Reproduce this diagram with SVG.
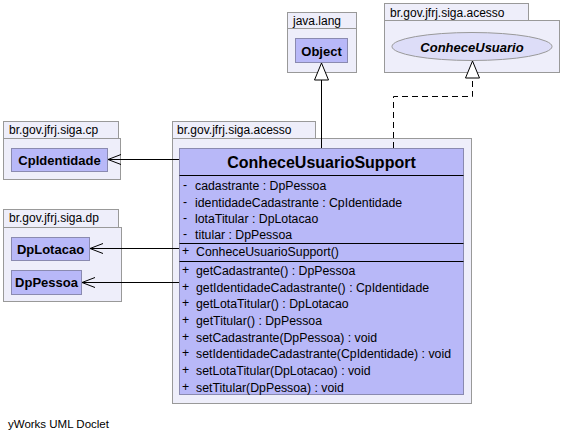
<svg xmlns="http://www.w3.org/2000/svg" width="562" height="441" viewBox="0 0 562 441">
<defs>
<style>
.pkg{fill:#EEEEFA;stroke:#999999;stroke-width:1}
.cls{fill:#B8B8F8;stroke:#8A8AB0;stroke-width:1}
.pl{font-family:"Liberation Sans",Arial,sans-serif;font-size:12px;fill:#000}
.bn{font-family:"Liberation Sans",Arial,sans-serif;font-size:13px;font-weight:bold;fill:#000;text-anchor:middle}
.mem{font-family:"Liberation Sans",Arial,sans-serif;font-size:12.3px;fill:#000}
.sep{stroke:#000;stroke-width:1}
.edge{fill:none;stroke:#000;stroke-width:1}
</style>
<marker id="open" markerWidth="14" markerHeight="12" refX="13" refY="6" orient="auto" markerUnits="userSpaceOnUse">
<path d="M0,1 L13,6 L0,11" fill="none" stroke="#000" stroke-width="1"/>
</marker>
<marker id="tri" markerWidth="20" markerHeight="18" refX="18" refY="8" orient="auto" markerUnits="userSpaceOnUse">
<path d="M18,8 L1,1 L1,15 Z" fill="#fff" stroke="#000" stroke-width="1"/>
</marker>
</defs>
<rect width="562" height="441" fill="#fff"/>

<g id="pkg-java-lang">
<rect class="pkg" x="287.5" y="12.5" width="69" height="16"/>
<rect class="pkg" x="287.5" y="28.5" width="69" height="44"/>
<text class="pl" x="293" y="25">java.lang</text>
</g>
<g id="Object">
<rect class="cls" x="295.5" y="38.5" width="52" height="24"/>
<text class="bn" x="321.5" y="55.5">Object</text>
</g>

<g id="pkg-acesso-top">
<rect class="pkg" x="384.5" y="3.5" width="144" height="17"/>
<rect class="pkg" x="384.5" y="20.5" width="175" height="52"/>
<text class="pl" x="390" y="17">br.gov.jfrj.siga.acesso</text>
</g>
<g id="ConheceUsuario">
<ellipse cx="472" cy="46.5" rx="80" ry="14" fill="#DDDDF8" stroke="#999999"/>
<text class="bn" x="472" y="51.5" font-style="italic">ConheceUsuario</text>
</g>

<g id="pkg-cp">
<rect class="pkg" x="3.5" y="121.5" width="115" height="17"/>
<rect class="pkg" x="3.5" y="138.5" width="117" height="41"/>
<text class="pl" x="9" y="134">br.gov.jfrj.siga.cp</text>
</g>
<g id="CpIdentidade">
<rect class="cls" x="11.5" y="148.5" width="96" height="23"/>
<text class="bn" x="59.5" y="165">CpIdentidade</text>
</g>

<g id="pkg-dp">
<rect class="pkg" x="3.5" y="209.5" width="115" height="18"/>
<rect class="pkg" x="3.5" y="227.5" width="118" height="74"/>
<text class="pl" x="9" y="222">br.gov.jfrj.siga.dp</text>
</g>
<g id="DpLotacao">
<rect class="cls" x="11.5" y="237.5" width="78" height="23"/>
<text class="bn" x="50.5" y="254">DpLotacao</text>
</g>
<g id="DpPessoa">
<rect class="cls" x="11.5" y="270.5" width="70" height="24"/>
<text class="bn" x="46.5" y="287">DpPessoa</text>
</g>

<g id="pkg-acesso-main">
<rect class="pkg" x="172.5" y="121.5" width="143" height="17"/>
<rect class="pkg" x="172.5" y="138.5" width="299" height="265"/>
<text class="pl" x="177" y="134">br.gov.jfrj.siga.acesso</text>
</g>

<g id="ConheceUsuarioSupport">
<rect class="cls" x="179.5" y="148.5" width="284" height="246"/>
<text x="321.5" y="168" font-family="'Liberation Sans',Arial,sans-serif" font-size="16" font-weight="bold" text-anchor="middle">ConheceUsuarioSupport</text>
<line class="sep" x1="179.5" y1="175.5" x2="463.5" y2="175.5"/>
<line class="sep" x1="179.5" y1="243.5" x2="463.5" y2="243.5"/>
<line class="sep" x1="179.5" y1="261.5" x2="463.5" y2="261.5"/>
<g class="mem">
<text x="183" y="189">-</text><text x="195" y="190">cadastrante : DpPessoa</text>
<text x="183" y="205.5">-</text><text x="195" y="206.5">identidadeCadastrante : CpIdentidade</text>
<text x="183" y="222">-</text><text x="195" y="223">lotaTitular : DpLotacao</text>
<text x="183" y="238">-</text><text x="195" y="239">titular : DpPessoa</text>
<text x="182" y="255">+</text><text x="196" y="256">ConheceUsuarioSupport()</text>
<text x="182" y="274">+</text><text x="196" y="275">getCadastrante() : DpPessoa</text>
<text x="182" y="291">+</text><text x="196" y="292">getIdentidadeCadastrante() : CpIdentidade</text>
<text x="182" y="307">+</text><text x="196" y="308">getLotaTitular() : DpLotacao</text>
<text x="182" y="324">+</text><text x="196" y="325">getTitular() : DpPessoa</text>
<text x="182" y="341">+</text><text x="196" y="342">setCadastrante(DpPessoa) : void</text>
<text x="182" y="357">+</text><text x="196" y="358">setIdentidadeCadastrante(CpIdentidade) : void</text>
<text x="182" y="374">+</text><text x="196" y="375">setLotaTitular(DpLotacao) : void</text>
<text x="182" y="391">+</text><text x="196" y="392">setTitular(DpPessoa) : void</text>
</g>
</g>

<g id="connectors">
<path class="edge" d="M321.5,148 L321.5,63" marker-end="url(#tri)"/>
<path class="edge" d="M393.5,148 L393.5,96.5 L472.5,96.5 L472.5,61" stroke-dasharray="6,4" marker-end="url(#tri)"/>
<path class="edge" d="M179,159.5 L108,159.5" marker-end="url(#open)"/>
<path class="edge" d="M179,248.5 L90,248.5" marker-end="url(#open)"/>
<path class="edge" d="M179,282.5 L82,282.5" marker-end="url(#open)"/>
</g>

<text x="8" y="428" font-family="'Liberation Sans',Arial,sans-serif" font-size="11.5">yWorks UML Doclet</text>
</svg>
